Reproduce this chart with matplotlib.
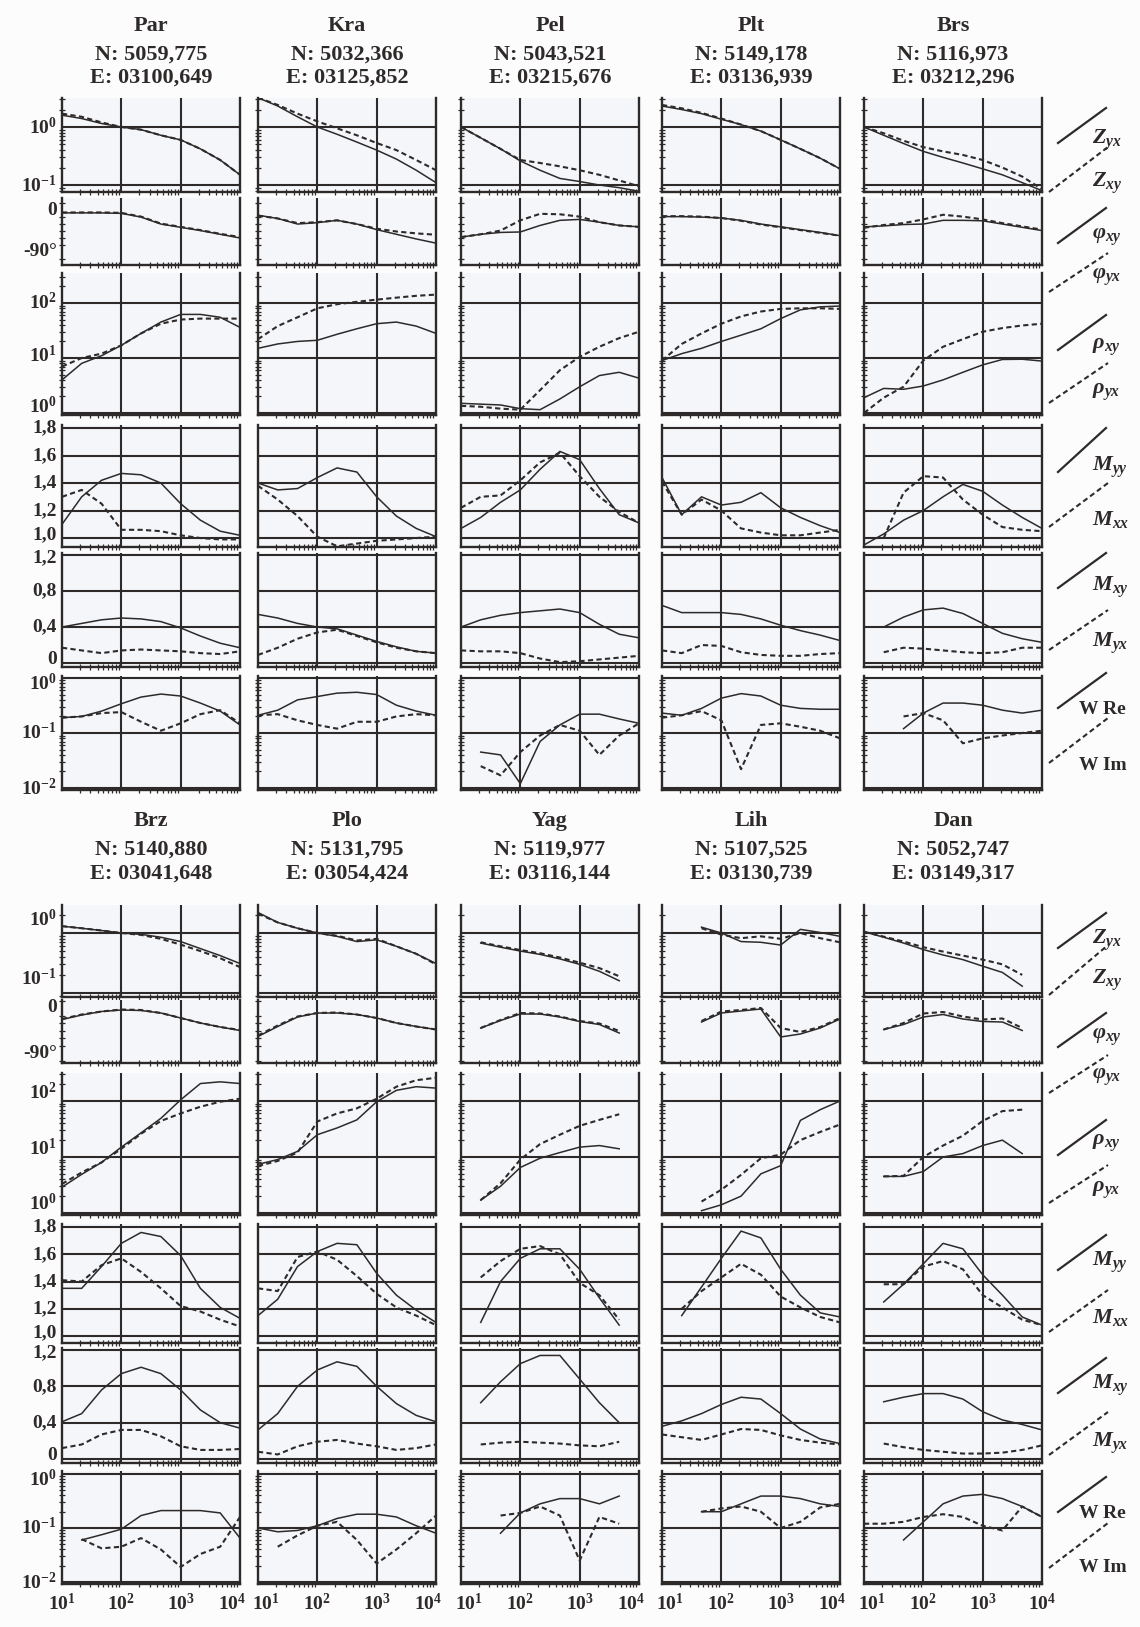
import numpy as np
import matplotlib
matplotlib.use("Agg")
import matplotlib.pyplot as plt
from matplotlib.lines import Line2D
from matplotlib.transforms import offset_copy
from matplotlib.ticker import LogLocator, MultipleLocator, NullFormatter, NullLocator

NA = np.nan

# periods, s (common grid for every curve)
PERIOD = [10, 21.5, 46.4, 100, 215, 464, 1000, 2150, 4640, 10000]

STATIONS = ["Par", "Kra", "Pel", "Plt", "Brs", "Brz", "Plo", "Yag", "Lih", "Dan"]
NORTH = ["N: 5059,775", "N: 5032,366", "N: 5043,521", "N: 5149,178", "N: 5116,973",
         "N: 5140,880", "N: 5131,795", "N: 5119,977", "N: 5107,525", "N: 5052,747"]
EAST = ["E: 03100,649", "E: 03125,852", "E: 03215,676", "E: 03136,939", "E: 03212,296",
        "E: 03041,648", "E: 03054,424", "E: 03116,144", "E: 03130,739", "E: 03149,317"]

# impedance |Z|, solid = Zyx, dashed = Zxy
Z_YX = [
    [1.6, 1.4, 1.15, 1.0, 0.9, 0.72, 0.6, 0.42, 0.27, 0.15],
    [3.2, 2.3, 1.5, 1.0, 0.75, 0.55, 0.40, 0.28, 0.18, 0.11],
    [1.0, 0.65, 0.42, 0.26, 0.18, 0.13, 0.115, 0.10, 0.09, 0.078],
    [2.3, 2.0, 1.7, 1.36, 1.1, 0.85, 0.6, 0.42, 0.29, 0.19],
    [1.0, 0.72, 0.52, 0.38, 0.30, 0.24, 0.19, 0.15, 0.11, 0.08],
    [1.3, 1.2, 1.1, 1.0, 0.95, 0.85, 0.72, 0.55, 0.42, 0.31],
    [2.2, 1.5, 1.2, 1.0, 0.88, 0.72, 0.77, 0.6, 0.45, 0.31],
    [NA, 0.68, 0.58, 0.5, 0.44, 0.37, 0.3, 0.23, 0.16, NA],
    [NA, NA, 1.25, 1.0, 0.72, 0.7, 0.63, 1.15, 1.02, 0.88],
    [1.05, 0.85, 0.68, 0.53, 0.43, 0.36, 0.28, 0.22, 0.13, NA],
]
Z_XY = [
    [1.7, 1.5, 1.2, 1.0, 0.9, 0.72, 0.6, 0.42, 0.27, 0.15],
    [3.2, 2.4, 1.7, 1.25, 0.95, 0.72, 0.53, 0.40, 0.27, 0.18],
    [1.0, 0.65, 0.42, 0.27, 0.24, 0.21, 0.18, 0.15, 0.12, 0.095],
    [2.4, 2.1, 1.75, 1.4, 1.1, 0.85, 0.6, 0.42, 0.29, 0.19],
    [1.0, 0.78, 0.58, 0.45, 0.38, 0.33, 0.27, 0.20, 0.14, 0.085],
    [1.3, 1.2, 1.1, 1.0, 0.93, 0.8, 0.64, 0.5, 0.38, 0.27],
    [2.1, 1.5, 1.2, 1.0, 0.9, 0.75, 0.8, 0.6, 0.45, 0.3],
    [NA, 0.7, 0.6, 0.52, 0.46, 0.39, 0.32, 0.26, 0.19, NA],
    [NA, NA, 1.2, 0.94, 0.82, 0.88, 0.8, 1.0, 0.82, 0.7],
    [1.05, 0.87, 0.72, 0.58, 0.49, 0.42, 0.36, 0.30, 0.2, NA],
]

# phase, degrees
PHI_XY = [
    [-6, -6, -6, -7, -15, -30, -37, -44, -52, -60],
    [-11, -18, -30, -27, -22, -30, -42, -52, -62, -71],
    [-58, -52, -48, -47, -33, -22, -20, -26, -33, -36],
    [-14, -14, -15, -17, -22, -30, -36, -42, -48, -55],
    [-36, -34, -31, -30, -22, -22, -23, -30, -37, -44],
    [-23, -14, -7, -4, -5, -10, -20, -30, -38, -45],
    [-57, -37, -18, -10, -10, -13, -20, -30, -37, -43],
    [NA, -40, -25, -12, -12, -18, -27, -33, -50, NA],
    [NA, NA, -28, -10, -6, -2, -58, -52, -40, -22],
    [NA, -43, -33, -18, -13, -22, -27, -28, -45, NA],
]
PHI_YX = [
    [-5, -5, -5, -6, -14, -29, -36, -43, -51, -58],
    [-12, -18, -28, -26, -22, -30, -40, -46, -50, -53],
    [-58, -52, -44, -22, -8, -9, -14, -26, -33, -36],
    [-13, -13, -14, -17, -23, -31, -37, -43, -49, -55],
    [-38, -32, -28, -20, -10, -14, -20, -28, -35, -42],
    [-22, -13, -7, -3, -4, -10, -20, -30, -38, -44],
    [-55, -35, -17, -10, -9, -13, -20, -30, -37, -43],
    [NA, -40, -24, -10, -11, -17, -26, -31, -46, NA],
    [NA, NA, -26, -7, -4, 0, -40, -48, -38, -20],
    [NA, -43, -30, -11, -8, -17, -23, -21, -40, NA],
]

# apparent resistivity, Ohm*m
RHO_XY = [
    [4, 8, 11, 17, 28, 45, 62, 62, 55, 36],
    [15, 18, 20, 21, 27, 34, 42, 45, 38, 28],
    [1.5, 1.45, 1.4, 1.2, 1.15, 1.8, 3.0, 4.8, 5.5, 4.3],
    [9, 12, 15, 20, 26, 34, 52, 75, 85, 88],
    [1.9, 2.8, 2.7, 3.1, 4.0, 5.5, 7.5, 9.4, 9.5, 8.8],
    [2.9, 4.9, 8, 15, 27, 49, 105, 205, 220, 205],
    [7.4, 9, 12.6, 25, 33, 46, 97, 155, 180, 170],
    [NA, 1.7, 3.0, 6.5, 9.5, 12, 15, 16, 14, NA],
    [NA, NA, 1.1, 1.4, 2.0, 5.0, 7.0, 45, 70, 100],
    [NA, 4.5, 4.5, 5.5, 10, 11.5, 16, 20, 11.5, NA],
]
RHO_YX = [
    [7, 10, 12, 17, 28, 42, 50, 52, 52, 52],
    [22, 38, 55, 80, 95, 105, 115, 125, 135, 142],
    [1.35, 1.3, 1.2, 1.15, 2.6, 6.0, 10.5, 16, 23, 30],
    [9, 18, 28, 42, 57, 70, 78, 80, 80, 78],
    [1.0, 1.9, 3.0, 9, 16, 22, 30, 35, 39, 42],
    [3.3, 5.3, 8, 14, 26, 44, 60, 79, 97, 110],
    [6.9, 8.5, 12, 43, 60, 74, 110, 180, 235, 260],
    [NA, 1.7, 3.4, 9, 17, 25, 36, 46, 58, NA],
    [NA, NA, 1.6, 2.6, 4.8, 9.5, 11, 20, 28, 38],
    [NA, 4.5, 4.6, 10, 16, 24, 44, 66, 70, NA],
]

# diagonal tensor components
M_YY = [
    [1.10, 1.30, 1.42, 1.47, 1.46, 1.40, 1.25, 1.13, 1.05, 1.02],
    [1.40, 1.35, 1.36, 1.44, 1.51, 1.48, 1.30, 1.16, 1.07, 1.01],
    [1.07, 1.15, 1.26, 1.35, 1.50, 1.63, 1.57, 1.36, 1.17, 1.11],
    [1.44, 1.17, 1.30, 1.24, 1.26, 1.33, 1.22, 1.15, 1.09, 1.04],
    [0.95, 1.03, 1.13, 1.20, 1.30, 1.39, 1.34, 1.24, 1.15, 1.07],
    [1.35, 1.35, 1.51, 1.68, 1.76, 1.73, 1.59, 1.35, 1.21, 1.13],
    [1.15, 1.27, 1.51, 1.62, 1.68, 1.67, 1.46, 1.30, 1.19, 1.10],
    [NA, 1.10, 1.40, 1.57, 1.64, 1.64, 1.49, 1.28, 1.08, NA],
    [NA, 1.15, 1.36, 1.57, 1.77, 1.72, 1.49, 1.30, 1.17, 1.14],
    [NA, 1.25, 1.38, 1.53, 1.68, 1.64, 1.45, 1.30, 1.14, 1.08],
]
M_XX = [
    [1.30, 1.35, 1.25, 1.06, 1.06, 1.05, 1.02, 1.00, 0.99, 0.99],
    [1.38, 1.28, 1.16, 1.01, 0.94, 0.96, 0.98, 0.99, 1.00, 1.01],
    [1.22, 1.30, 1.31, 1.42, 1.55, 1.62, 1.45, 1.30, 1.19, 1.11],
    [1.41, 1.17, 1.28, 1.20, 1.07, 1.04, 1.02, 1.02, 1.04, 1.06],
    [NA, 1.00, 1.33, 1.45, 1.44, 1.28, 1.17, 1.08, 1.06, 1.05],
    [1.41, 1.40, 1.52, 1.57, 1.47, 1.35, 1.22, 1.18, 1.12, 1.07],
    [1.35, 1.33, 1.58, 1.62, 1.56, 1.44, 1.31, 1.21, 1.15, 1.08],
    [NA, 1.43, 1.55, 1.64, 1.66, 1.60, 1.39, 1.30, 1.12, NA],
    [NA, 1.20, 1.33, 1.43, 1.53, 1.45, 1.29, 1.21, 1.14, 1.10],
    [NA, 1.38, 1.38, 1.51, 1.55, 1.49, 1.30, 1.21, 1.12, 1.08],
]

# off-diagonal components
M_XY = [
    [0.40, 0.44, 0.48, 0.50, 0.49, 0.46, 0.39, 0.30, 0.22, 0.17],
    [0.54, 0.50, 0.44, 0.40, 0.38, 0.31, 0.24, 0.18, 0.13, 0.11],
    [0.40, 0.48, 0.53, 0.56, 0.58, 0.60, 0.56, 0.43, 0.32, 0.28],
    [0.64, 0.56, 0.56, 0.56, 0.54, 0.49, 0.42, 0.36, 0.31, 0.25],
    [NA, 0.40, 0.51, 0.59, 0.61, 0.55, 0.44, 0.33, 0.27, 0.23],
    [0.41, 0.50, 0.76, 0.94, 1.01, 0.94, 0.76, 0.54, 0.40, 0.34],
    [0.32, 0.50, 0.80, 0.98, 1.07, 1.02, 0.80, 0.61, 0.48, 0.41],
    [NA, 0.62, 0.85, 1.05, 1.14, 1.14, 0.88, 0.62, 0.40, NA],
    [0.36, 0.42, 0.50, 0.60, 0.68, 0.66, 0.50, 0.33, 0.22, 0.17],
    [NA, 0.63, 0.68, 0.72, 0.72, 0.66, 0.52, 0.43, 0.38, 0.32],
]
M_YX = [
    [0.17, 0.14, 0.11, 0.14, 0.15, 0.14, 0.13, 0.11, 0.10, 0.13],
    [0.09, 0.17, 0.27, 0.34, 0.37, 0.30, 0.23, 0.17, 0.13, 0.11],
    [0.14, 0.13, 0.13, 0.11, 0.05, 0.01, 0.02, 0.04, 0.06, 0.08],
    [0.14, 0.11, 0.20, 0.19, 0.12, 0.09, 0.08, 0.08, 0.10, 0.11],
    [NA, 0.12, 0.17, 0.16, 0.14, 0.12, 0.11, 0.12, 0.17, 0.17],
    [0.12, 0.16, 0.27, 0.32, 0.32, 0.25, 0.14, 0.10, 0.10, 0.11],
    [0.08, 0.05, 0.14, 0.19, 0.21, 0.17, 0.14, 0.10, 0.12, 0.16],
    [NA, 0.16, 0.18, 0.19, 0.18, 0.17, 0.15, 0.14, 0.19, NA],
    [0.27, 0.24, 0.21, 0.27, 0.33, 0.32, 0.26, 0.21, 0.18, 0.16],
    [NA, 0.17, 0.13, 0.10, 0.08, 0.06, 0.06, 0.07, 0.10, 0.15],
]

# tipper
W_RE = [
    [0.19, 0.20, 0.25, 0.34, 0.45, 0.51, 0.47, 0.35, 0.25, 0.14],
    [0.21, 0.26, 0.40, 0.46, 0.53, 0.55, 0.50, 0.32, 0.25, 0.21],
    [NA, 0.045, 0.04, 0.012, 0.07, 0.14, 0.22, 0.22, 0.18, 0.15],
    [0.23, 0.21, 0.28, 0.43, 0.52, 0.47, 0.32, 0.28, 0.27, 0.27],
    [NA, NA, 0.12, 0.23, 0.35, 0.35, 0.32, 0.26, 0.23, 0.26],
    [NA, 0.06, 0.075, 0.095, 0.17, 0.21, 0.21, 0.21, 0.19, 0.065],
    [0.10, 0.085, 0.09, 0.11, 0.15, 0.18, 0.18, 0.16, 0.11, 0.08],
    [NA, NA, 0.08, 0.19, 0.28, 0.35, 0.35, 0.28, 0.39, NA],
    [NA, NA, 0.20, 0.20, 0.28, 0.39, 0.39, 0.35, 0.28, 0.25],
    [NA, NA, 0.06, 0.13, 0.28, 0.39, 0.42, 0.35, 0.25, 0.16],
]
W_IM = [
    [0.19, 0.20, 0.23, 0.24, 0.16, 0.11, 0.15, 0.22, 0.26, 0.15],
    [0.21, 0.22, 0.17, 0.14, 0.12, 0.16, 0.16, 0.20, 0.22, 0.21],
    [NA, 0.025, 0.017, 0.045, 0.09, 0.14, 0.11, 0.04, 0.09, 0.15],
    [0.19, 0.21, 0.25, 0.17, 0.022, 0.14, 0.15, 0.13, 0.11, 0.08],
    [NA, NA, 0.20, 0.23, 0.17, 0.065, 0.08, 0.09, 0.10, 0.11],
    [NA, 0.062, 0.042, 0.045, 0.065, 0.04, 0.019, 0.033, 0.045, 0.16],
    [NA, 0.045, 0.073, 0.11, 0.13, 0.06, 0.022, 0.04, 0.08, 0.17],
    [NA, NA, 0.17, 0.19, 0.25, 0.17, 0.025, 0.16, 0.12, NA],
    [NA, NA, 0.20, 0.23, 0.25, 0.20, 0.10, 0.13, 0.24, 0.28],
    [0.12, 0.12, 0.13, 0.16, 0.18, 0.16, 0.11, 0.09, 0.25, 0.16],
]

PANELS = [(Z_YX, Z_XY), (PHI_XY, PHI_YX), (RHO_XY, RHO_YX),
          (M_YY, M_XX), (M_XY, M_YX), (W_RE, W_IM)]
LEG_LABELS = [(r"$Z_{yx}$", r"$Z_{xy}$"), (r"$\varphi_{xy}$", r"$\varphi_{yx}$"),
              (r"$\rho_{xy}$", r"$\rho_{yx}$"), (r"$M_{yy}$", r"$M_{xx}$"),
              (r"$M_{xy}$", r"$M_{yx}$"), ("W Re", "W Im")]

# ---- layout (pixels of the 1140x1627 canvas) ----
W, H = 1140, 1627
INK = "#2e2a2a"
SERIF = "Liberation Serif"
COL_LEFT = [62, 258, 461, 662, 864]
COL_W = 178
ROWS = [
    [(98, 192), (198, 265), (273, 415), (425, 547), (553, 667), (676, 790)],
    [(905, 997), (1000, 1063), (1073, 1215), (1224, 1343), (1348, 1463), (1471, 1584)],
]
YLIMS = [
    [(10 ** -1.12, 10 ** 0.5), (-118, 26), (10 ** -0.036, 10 ** 2.545),
     (0.935, 1.822), (-0.044, 1.222), (10 ** -2.036, 10 ** 0.036)],
    [(10 ** -1.067, 10 ** 0.467), (-110, 16), (10 ** -0.036, 10 ** 2.5),
     (0.949, 1.822), (-0.044, 1.222), (10 ** -2.037, 10 ** 0.055)],
]
HEADER_Y = [(26, 55, 78), (821, 850, 874)]
LOG_ROW = [True, False, True, False, False, True]
HGRID = [[1, 0.1], [], [100, 10, 1], [1.8, 1.6, 1.4, 1.2, 1.0], [1.2, 0.8, 0.4, 0], [1, 0.1, 0.01]]
YTICKS = [[1, 0.1], [0, -90], [100, 10, 1], [1.8, 1.6, 1.4, 1.2, 1.0], [1.2, 0.8, 0.4, 0], [1, 0.1, 0.01]]
YTICKLABELS = [[r"$10^{0}$", r"$10^{-1}$"], ["0", "-90°"],
               [r"$10^{2}$", r"$10^{1}$", r"$10^{0}$"],
               ["1,8", "1,6", "1,4", "1,2", "1,0"], ["1,2", "0,8", "0,4", "0"],
               [r"$10^{0}$", r"$10^{-1}$", r"$10^{-2}$"]]
# vertical nudge of the y labels (pixels, + = up), per block, keeps neighbours apart
YLAB_SHIFT = [
    [[0, 0], [0, 0], [0, 3, 7], [0, 0, 0, 0, 3], [-3, 0, 0, 4], [-6, 0, 0]],
    [[14, 14], [0, 0], [8, 8, 9], [0, 0, 0, 0, 3], [-3, 0, 0, 4], [-6, 0, 0]],
]
XTICKS = [10, 100, 1000, 10000]
XTICKLABELS = [r"$10^{1}$", r"$10^{2}$", r"$10^{3}$", r"$10^{4}$"]

# legend: (solid y0, solid y1, solid label y, dashed y0, dashed y1, dashed label y)
LEG_Y = [
    [(143, 108, 140, 192, 147, 183), (243, 208, 237, 292, 253, 277),
     (350, 315, 347, 403, 363, 392), (472, 428, 467, 527, 483, 520),
     (588, 553, 587, 650, 610, 643), (708, 673, 710, 763, 718, 765)],
    [(948, 913, 940, 995, 945, 980), (1047, 1013, 1037, 1093, 1055, 1077),
     (1155, 1120, 1143, 1203, 1165, 1190), (1270, 1235, 1262, 1332, 1290, 1317),
     (1393, 1358, 1385, 1455, 1412, 1443), (1512, 1477, 1513, 1568, 1523, 1568)],
]

plt.rcParams["font.family"] = [SERIF, "DejaVu Serif"]
plt.rcParams["font.weight"] = "bold"
plt.rcParams["mathtext.fontset"] = "custom"
plt.rcParams["mathtext.rm"] = "Liberation Serif:bold"
plt.rcParams["mathtext.bf"] = "Liberation Serif:bold"
plt.rcParams["mathtext.it"] = "Liberation Serif:italic:bold"


def fx(px):
    return px / W


def fy(py):
    return 1 - py / H


fig = plt.figure(figsize=(11.4, 16.27), dpi=100, facecolor="#fcfcfc")

for block in range(2):
    for col in range(5):
        s = block * 5 + col
        left = COL_LEFT[col]
        cx = left + COL_W / 2
        hy = HEADER_Y[block]
        for txt, yy in zip((STATIONS[s], NORTH[s], EAST[s]), hy):
            fig.text(fx(cx), fy(yy), txt, ha="center", va="center",
                     fontsize=16, fontweight="bold", color=INK)

        for r in range(6):
            y0, y1 = ROWS[block][r]
            ax = fig.add_axes([fx(left), fy(y1), COL_W / W, (y1 - y0) / H])
            ax.set_facecolor("#f4f6f9")
            ax.set_xscale("log")
            if LOG_ROW[r]:
                ax.set_yscale("log")
            ax.set_xlim(10, 10000)
            ax.set_ylim(*YLIMS[block][r])

            for v in HGRID[r]:
                ax.axhline(v, color=INK, lw=1.5, zorder=1)
            for v in (100, 1000):
                ax.axvline(v, color=INK, lw=1.5, zorder=1)

            solid, dashed = PANELS[r]
            ax.plot(PERIOD, solid[s], color=INK, lw=1.1, zorder=3)
            ax.plot(PERIOD, dashed[s], color=INK, lw=1.5, ls=(0, (2.5, 1.6)), zorder=3)

            for side in ("left", "right", "bottom"):
                ax.spines[side].set_linewidth(1.7)
                ax.spines[side].set_color(INK)
            ax.spines["top"].set_visible(False)

            ax.set_yticks(YTICKS[r])
            ax.set_yticklabels([])
            ax.tick_params(axis="y", which="major", length=0)
            if col == 0:
                shifts = YLAB_SHIFT[block][r]
                for v, lab, dy in zip(YTICKS[r], YTICKLABELS[r], shifts):
                    tr = offset_copy(ax.get_yaxis_transform(), fig=fig,
                                     x=-5, y=dy, units="dots")
                    ax.text(0, v, lab, transform=tr, ha="right", va="center",
                            fontsize=14, fontweight="bold", color=INK)
            if LOG_ROW[r]:
                ax.yaxis.set_minor_locator(LogLocator(base=10, subs=np.arange(2, 10)))
            elif r == 1:
                ax.yaxis.set_minor_locator(MultipleLocator(15))
            else:
                ax.yaxis.set_minor_locator(NullLocator())
            ax.yaxis.set_minor_formatter(NullFormatter())
            ax.tick_params(axis="y", which="minor", direction="inout", length=4,
                           width=0.9, color=INK, left=True, right=False)

            ax.set_xticks(XTICKS)
            ax.set_xticklabels([])
            ax.tick_params(axis="x", which="major", length=0)
            ax.xaxis.set_minor_locator(LogLocator(base=10, subs=np.arange(2, 10)))
            ax.xaxis.set_minor_formatter(NullFormatter())
            ax.tick_params(axis="x", which="minor", direction="inout", length=5,
                           width=0.9, color=INK, top=False)

            if block == 1 and r == 5:
                for i, (t, lab) in enumerate(zip(XTICKS, XTICKLABELS)):
                    dx = 0
                    if i == 0 and col > 0:
                        dx = 8
                    if i == 3 and col < 4:
                        dx = -8
                    tr = offset_copy(ax.get_xaxis_transform(), fig=fig,
                                     x=dx, y=-9, units="dots")
                    ax.text(t, 0, lab, transform=tr, ha="center", va="top",
                            fontsize=14, fontweight="bold", color=INK)

    # legend column on the right
    for r in range(6):
        sy0, sy1, sly, dy0, dy1, dly = LEG_Y[block][r]
        lab_x = 1079 if r == 5 else 1092
        fig.add_artist(Line2D([fx(1058), fx(1106)], [fy(sy0), fy(sy1)],
                              transform=fig.transFigure, color=INK, lw=1.6))
        fig.add_artist(Line2D([fx(1049), fx(1108)], [fy(dy0), fy(dy1)],
                              transform=fig.transFigure, color=INK, lw=1.5,
                              ls=(0, (2.5, 1.6))))
        fs = 14 if r == 5 else 16
        fig.text(fx(lab_x), fy(sly), LEG_LABELS[r][0], ha="left", va="center",
                 fontsize=fs, fontweight="bold", color=INK)
        fig.text(fx(lab_x), fy(dly), LEG_LABELS[r][1], ha="left", va="center",
                 fontsize=fs, fontweight="bold", color=INK)

fig.savefig("out.png", dpi=100, facecolor=fig.get_facecolor())
